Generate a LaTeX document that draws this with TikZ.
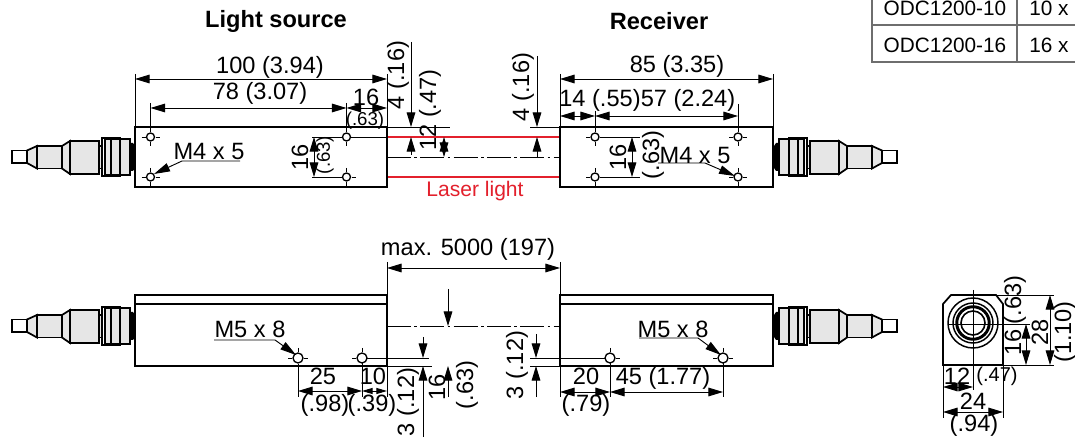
\documentclass[tikz,border=0pt]{standalone}
\usepackage{fontspec}
\setmainfont{Liberation Sans}
\usetikzlibrary{arrows.meta}
\definecolor{laser}{HTML}{E3202C}
\definecolor{tablegray}{HTML}{6E6E6E}
\definecolor{plugfill}{HTML}{E6E6E6}
\tikzset{
  lab/.style={font=\fontsize{17.7}{18}\selectfont,inner sep=0pt,text=black},
  labv/.style={lab,rotate=90},
  small/.style={font=\fontsize{14}{14}\selectfont,inner sep=0pt},
  smallv/.style={small,rotate=90},
  head/.style={font=\fontsize{17.7}{18}\selectfont\bfseries,inner sep=0pt},
  tabtext/.style={font=\fontsize{15.6}{16}\selectfont,inner sep=0pt},
  lasertext/.style={font=\fontsize{15.8}{16}\selectfont,inner sep=0pt,text=laser},
  body/.style={line width=1.3pt,draw=black,line join=miter},
  thin line/.style={line width=.7pt,draw=black},
  dim/.style={thin line,{Triangle[length=11pt,width=6.5pt]}-{Triangle[length=11pt,width=6.5pt]}},
  sdim/.style={thin line,{Triangle[length=8pt,width=4.5pt]}-{Triangle[length=8pt,width=4.5pt]}},
  into/.style={thin line,-{Triangle[length=11pt,width=6.5pt]}},
  leader/.style={line width=.7pt,draw=black,-{Triangle[length=12pt,width=6.5pt]}},
  centerline/.style={line width=.7pt,draw=black,dash pattern=on 18pt off 2.5pt on 2pt off 2.5pt},
  beam/.style={line width=1.1pt,draw=laser},
  plugpart/.style={line width=1.3pt,draw=black,fill=plugfill},
  tablerule/.style={line width=.9pt,draw=tablegray},
}
\newcommand{\plugshape}{%
  \draw[plugpart,fill=white] (12,-6.5) rectangle (27,6);
  \draw[plugpart] (27,-6.5) -- (37,-11) -- (37,11.5) -- (27,6) -- cycle;
  \draw[plugpart] (37,-11) rectangle (62,11.5);
  \draw[plugpart] (62,-11) -- (70,-16) -- (70,17) -- (62,11.5) -- cycle;
  \draw[plugpart] (70,-16) rectangle (99,17);
  \draw[plugpart] (99,-11) rectangle (102,11.5);
  \draw[plugpart,fill=white] (102,-19) rectangle (120,19);
  \draw[plugpart] (105,-18) rectangle (111,18);
  \draw[plugpart] (111,-18) rectangle (120,18);
  \draw[plugpart,line width=.8pt] (120,-18) rectangle (130,18);
  \fill[black] (130,-14) -- (133,-14) -- (135,-11) -- (135,11) -- (133,14) -- (130,14) -- cycle;
}
\newcommand{\drillhole}[3]{%
  \draw[line width=.6pt] (#1-#3-5,#2) -- (#1-#3-1,#2) (#1+#3+1,#2) -- (#1+#3+5,#2)
     (#1,#2-#3-5) -- (#1,#2-#3-1) (#1,#2+#3+1) -- (#1,#2+#3+5);
  \draw[line width=1pt,fill=white] (#1,#2) circle (#3);
}
\begin{document}
\begin{tikzpicture}[x=0.75pt,y=-0.75pt]
\useasboundingbox (0,0) rectangle (1075,438);
\clip (0,0) rectangle (1075,438);
\fill[white] (0,0) rectangle (1075,438);

% ---------- table
\draw[tablerule] (872,-5) -- (872,62) -- (1080,62);
\draw[tablerule] (872,25) -- (1080,25);
\draw[tablerule] (1017,-5) -- (1017,62);
\node[tabtext] (t1) at (945,8) {ODC1200-10};
\node[tabtext] (t2) at (945,45) {ODC1200-16};
\node[tabtext,anchor=west] (t3) at (1029,8) {10 x 20};
\node[tabtext,anchor=west] (t4) at (1029,45) {16 x 20};

% ---------- headings
\node[head] (h1) at (276,21) {Light source};
\node[head] (h2) at (659,21) {Receiver};

% ---------- top view: connectors
\begin{scope}[shift={(0,157)}]\plugshape\end{scope}
\begin{scope}[shift={(909,157)},xscale=-1]\plugshape\end{scope}

% ---------- top view: beam
\draw[thin line] (346,137) -- (387,137);
\draw[thin line] (387,127) -- (450,127) (530,127) -- (560,127);
\draw[beam] (387,137) -- (560,137);
\draw[beam] (387,177) -- (560,177);
\draw[centerline] (387,157) -- (560,157);

% ---------- top view: bodies
\draw[body] (135,127) rectangle (387,187);
\draw[body] (560,127) rectangle (773,187);
\drillhole{150.5}{137}{4}
\drillhole{346.5}{137}{4}
\drillhole{150.5}{177}{4}
\drillhole{346.5}{177}{4}
\drillhole{595}{137}{4}
\drillhole{738}{137}{4}
\drillhole{595}{177}{4}
\drillhole{738}{177}{4}

% top view: dimensions left
\draw[thin line] (135,74) -- (135,127) (387,74) -- (387,127);
\draw[thin line] (150.5,103) -- (150.5,132) (346.5,103) -- (346.5,132);
\draw[dim] (135,79) -- (387,79);
\draw[dim] (150.5,108) -- (346.5,108);
\draw[dim] (346.5,108) -- (387,108);
\node[lab] (a1) at (270,67) {100 (3.94)};
\node[lab] (a2) at (260,93) {78 (3.07)};
\node[lab] (a3) at (366,97) {16};
\node[small] (a4) at (365,121) {(.63)};
\draw[thin line] (312,137) -- (342,137) (312,177) -- (342,177);
\draw[dim] (314,137) -- (314,177);
\node[labv] (a5) at (300,157) {16};
\node[smallv] (a6) at (325,155) {(.63)};
\draw[leader] (240,161) -- (182,161) -- (154,174);
\node[lab] (a7) at (209,151) {M4 x 5};

% top view: dimensions gap
\draw[into] (411,42) -- (411,127);
\draw[into] (411,155) -- (411,137);
\draw[dim] (444,137) -- (444,157);
\node[labv] (b1) at (398,75) {4 (.16)};
\node[labv] (b2) at (430,110) {12 (.47)};
\draw[into] (537,56) -- (537,127);
\draw[into] (537,157) -- (537,137);
\node[labv] (b3) at (523,87) {4 (.16)};
\node[lasertext] (b4) at (475,191) {Laser light};

% top view: dimensions right
\draw[thin line] (560,74) -- (560,127) (773,74) -- (773,127);
\draw[thin line] (738,104) -- (738,132) (595,111) -- (595,132);
\draw[dim] (560,79) -- (773,79);
\draw[dim] (560,116) -- (595,116);
\draw[dim] (595,116) -- (738,116);
\node[lab] (c1) at (677,66) {85 (3.35)};
\node[lab] (c2) at (600,100) {14 (.55)};
\node[lab] (c3) at (688,100) {57 (2.24)};
\draw[thin line] (600,137) -- (640,137) (600,177) -- (640,177);
\draw[dim] (632,137) -- (632,177);
\node[labv] (c4) at (618,157) {16};
\node[labv] (c5) at (653,155) {(.63)};
\draw[leader] (658,163) -- (705,163) -- (735,176);
\node[lab] (c6) at (695,155) {M4 x 5};

% ---------- side view
\begin{scope}[shift={(0,326)}]\plugshape\end{scope}
\begin{scope}[shift={(909,326)},xscale=-1]\plugshape\end{scope}
\draw[thin line] (387,366) -- (432,366) (530,366) -- (560,366);
\draw[thin line] (362,358) -- (429,358) (530,358) -- (606,358);
\draw[centerline] (387,326) -- (560,326);
\draw[body] (135,295) rectangle (387,366);
\draw[body] (135,304) -- (387,304);
\draw[body] (560,295) rectangle (773,366);
\draw[body] (560,304) -- (773,304);
\drillhole{298}{358}{5}
\drillhole{362}{358}{5}
\drillhole{610}{358}{5}
\drillhole{723}{358}{5}

\draw[thin line] (387,262) -- (387,397) (560,262) -- (560,295);
\draw[dim] (387,268) -- (560,268);
\node[lab] (d1) at (468,249) {max. 5000 (197)};
\draw[thin line] (298,366) -- (298,397) (362,363) -- (362,397) (560,366) -- (560,397) (610,363) -- (610,397) (723,363) -- (723,397);
\draw[dim] (298,391) -- (362,391);
\draw[sdim] (362,391) -- (387,391);
\node[lab] (d2) at (323,376) {25};
\node[lab] (d3) at (325,405) {(.98)};
\node[lab] (d4) at (373,376) {10};
\node[lab] (d5) at (372,405) {(.39)};
\draw[into] (423,337) -- (423,358);
\draw[into] (423,437) -- (423,366);
\node[labv] (d6) at (408,402) {3 (.12)};
\draw[into] (448,289) -- (448,326);
\draw[into] (448,397) -- (448,366);
\node[labv] (d7) at (437,387) {16};
\node[labv] (d8) at (467,385) {(.63)};
\draw[into] (536,334) -- (536,358);
\draw[into] (536,397) -- (536,366);
\node[labv] (d9) at (517,365) {3 (.12)};
\draw[dim] (560,392) -- (610,392);
\draw[dim] (610,392) -- (723,392);
\node[lab] (e1) at (586,376) {20};
\node[lab] (e2) at (586,405) {(.79)};
\node[lab] (e3) at (663,378) {45 (1.77)};
\draw[leader] (214,340) -- (275,340) -- (296,355);
\node[lab] (e4) at (250,329) {M5 x 8};
\draw[leader] (639,338) -- (698,338) -- (721,355);
\node[lab] (e5) at (673,329) {M5 x 8};

% ---------- end view
\draw[body] (943,304) -- (951,295) -- (996,295) -- (1003,304) -- (1003,365) -- (943,365) -- cycle;
\draw[line width=1.1pt] (973,323) circle (25) circle (20) circle (17) circle (15.5);
\draw[line width=1.2pt] (973,323) circle (12);
\draw[thin line] (948,324) -- (1030,324) (973,290) -- (973,390);
\draw[thin line] (996,295) -- (1054,295) (1003,365) -- (1054,365);
\draw[thin line] (943,365) -- (943,418) (1003,365) -- (1003,418);
\draw[dim] (1026,324) -- (1026,365);
\draw[dim] (1050,295) -- (1050,365);
\draw[dim] (943,387) -- (973,387);
\draw[dim] (943,412) -- (1003,412);
\node[labv] (f1) at (1013,342) {16};
\node[labv] (f2) at (1015,300) {(.63)};
\node[labv] (f3) at (1040,332) {28};
\node[labv] (f4) at (1065,332) {(1.10)};
\node[lab] (f5) at (957,376) {12};
\node[small,font=\fontsize{15}{15}\selectfont] (f6) at (997,376) {(.47)};
\node[lab] (f7) at (973,401) {24};
\node[lab] (f8) at (974,425) {(.94)};
\end{tikzpicture}
\end{document}
